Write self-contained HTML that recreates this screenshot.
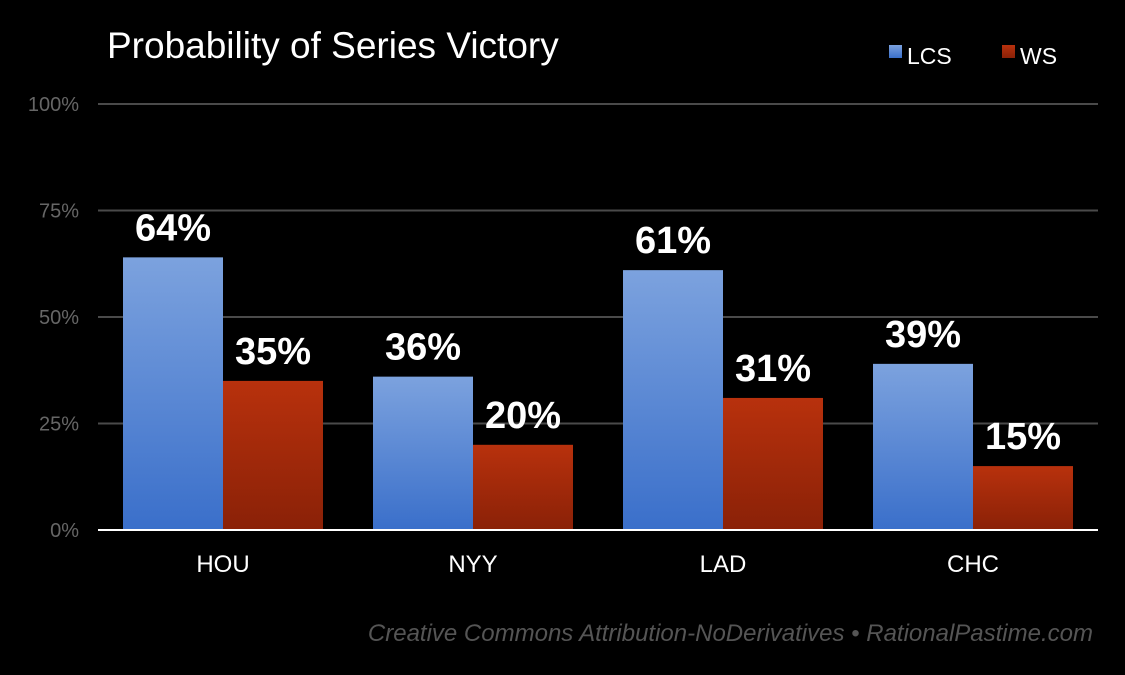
<!DOCTYPE html>
<html><head><meta charset="utf-8"><style>
html,body{margin:0;padding:0;background:#000;}
svg{display:block;font-family:"Liberation Sans",sans-serif;}
</style></head><body>
<svg id="chart" width="1125" height="675" viewBox="0 0 1125 675" xmlns="http://www.w3.org/2000/svg">
<defs>
<linearGradient id="gBlue" x1="0" y1="0" x2="0" y2="1"><stop offset="0" stop-color="#7ca2de"/><stop offset="1" stop-color="#3a6fca"/></linearGradient>
<linearGradient id="gRed" x1="0" y1="0" x2="0" y2="1"><stop offset="0" stop-color="#b8310d"/><stop offset="1" stop-color="#8a2107"/></linearGradient>
</defs>
<rect width="1125" height="675" fill="#000"/>
<text x="107" y="58" fill="#fff" font-size="37">Probability of Series Victory</text>
<g>
<rect x="889" y="45" width="13" height="13" fill="url(#gBlue)"/>
<text x="907" y="64" fill="#fff" font-size="23">LCS</text>
<rect x="1002" y="45" width="13" height="13" fill="url(#gRed)"/>
<text x="1020" y="64" fill="#fff" font-size="23">WS</text>
</g>
<g id="grid"></g><g id="bars"></g><g id="labels"></g>
<line x1="98" y1="530" x2="1098" y2="530" stroke="#fff" stroke-width="2"/>
<text x="1093" y="641" fill="#555" font-size="24" font-style="italic" text-anchor="end">Creative Commons Attribution-NoDerivatives • RationalPastime.com</text>
</svg>
<script>
const categories = ["HOU","NYY","LAD","CHC"];
const lcsValues = [64,36,61,39];
const wsValues = [35,20,31,15];
const yTicks = [0,25,50,75,100];

const NS="http://www.w3.org/2000/svg";
const x0=98, groupW=250, barW=100, pad=25;
const yBase=530, yTop=104;
function y(v){return yBase-(v/100)*(yBase-yTop);}
function xGroup(i){return x0+i*groupW;}
function mk(tag,attrs,parent){const e=document.createElementNS(NS,tag);for(const k in attrs)e.setAttribute(k,attrs[k]);parent.appendChild(e);return e;}
const grid=document.getElementById('grid'),bars=document.getElementById('bars'),labels=document.getElementById('labels');
yTicks.forEach(t=>{
  if(t>0){const l=mk('line',{x1:x0,x2:1098,y1:y(t),y2:y(t),stroke:'#4a4a4a','stroke-width':2},grid);
  
  }
  const tx=mk('text',{x:79,y:y(t)+7,fill:'#666','font-size':20,'text-anchor':'end'},grid);
  tx.textContent=t+'%';
  
  
});
categories.forEach((c,i)=>{
  const gx=xGroup(i)+pad;
  [[lcsValues[i],'url(#gBlue)','lcs',0],[wsValues[i],'url(#gRed)','ws',1]].forEach(([v,f,s,k])=>{
    const bx=gx+k*barW;
    const r=mk('rect',{x:bx,y:y(v),width:barW,height:yBase-y(v),fill:f},bars);
    
    
    const t=mk('text',{x:bx+barW/2,y:y(v)-17,fill:'#fff','font-size':38,'font-weight':'bold','text-anchor':'middle'},labels);
    t.textContent=v+'%';
    
    
  });
  const xl=mk('text',{x:gx+barW,y:572,fill:'#fff','font-size':24,'text-anchor':'middle'},labels);
  xl.textContent=c;
  
  
});
</script>
</body></html>
